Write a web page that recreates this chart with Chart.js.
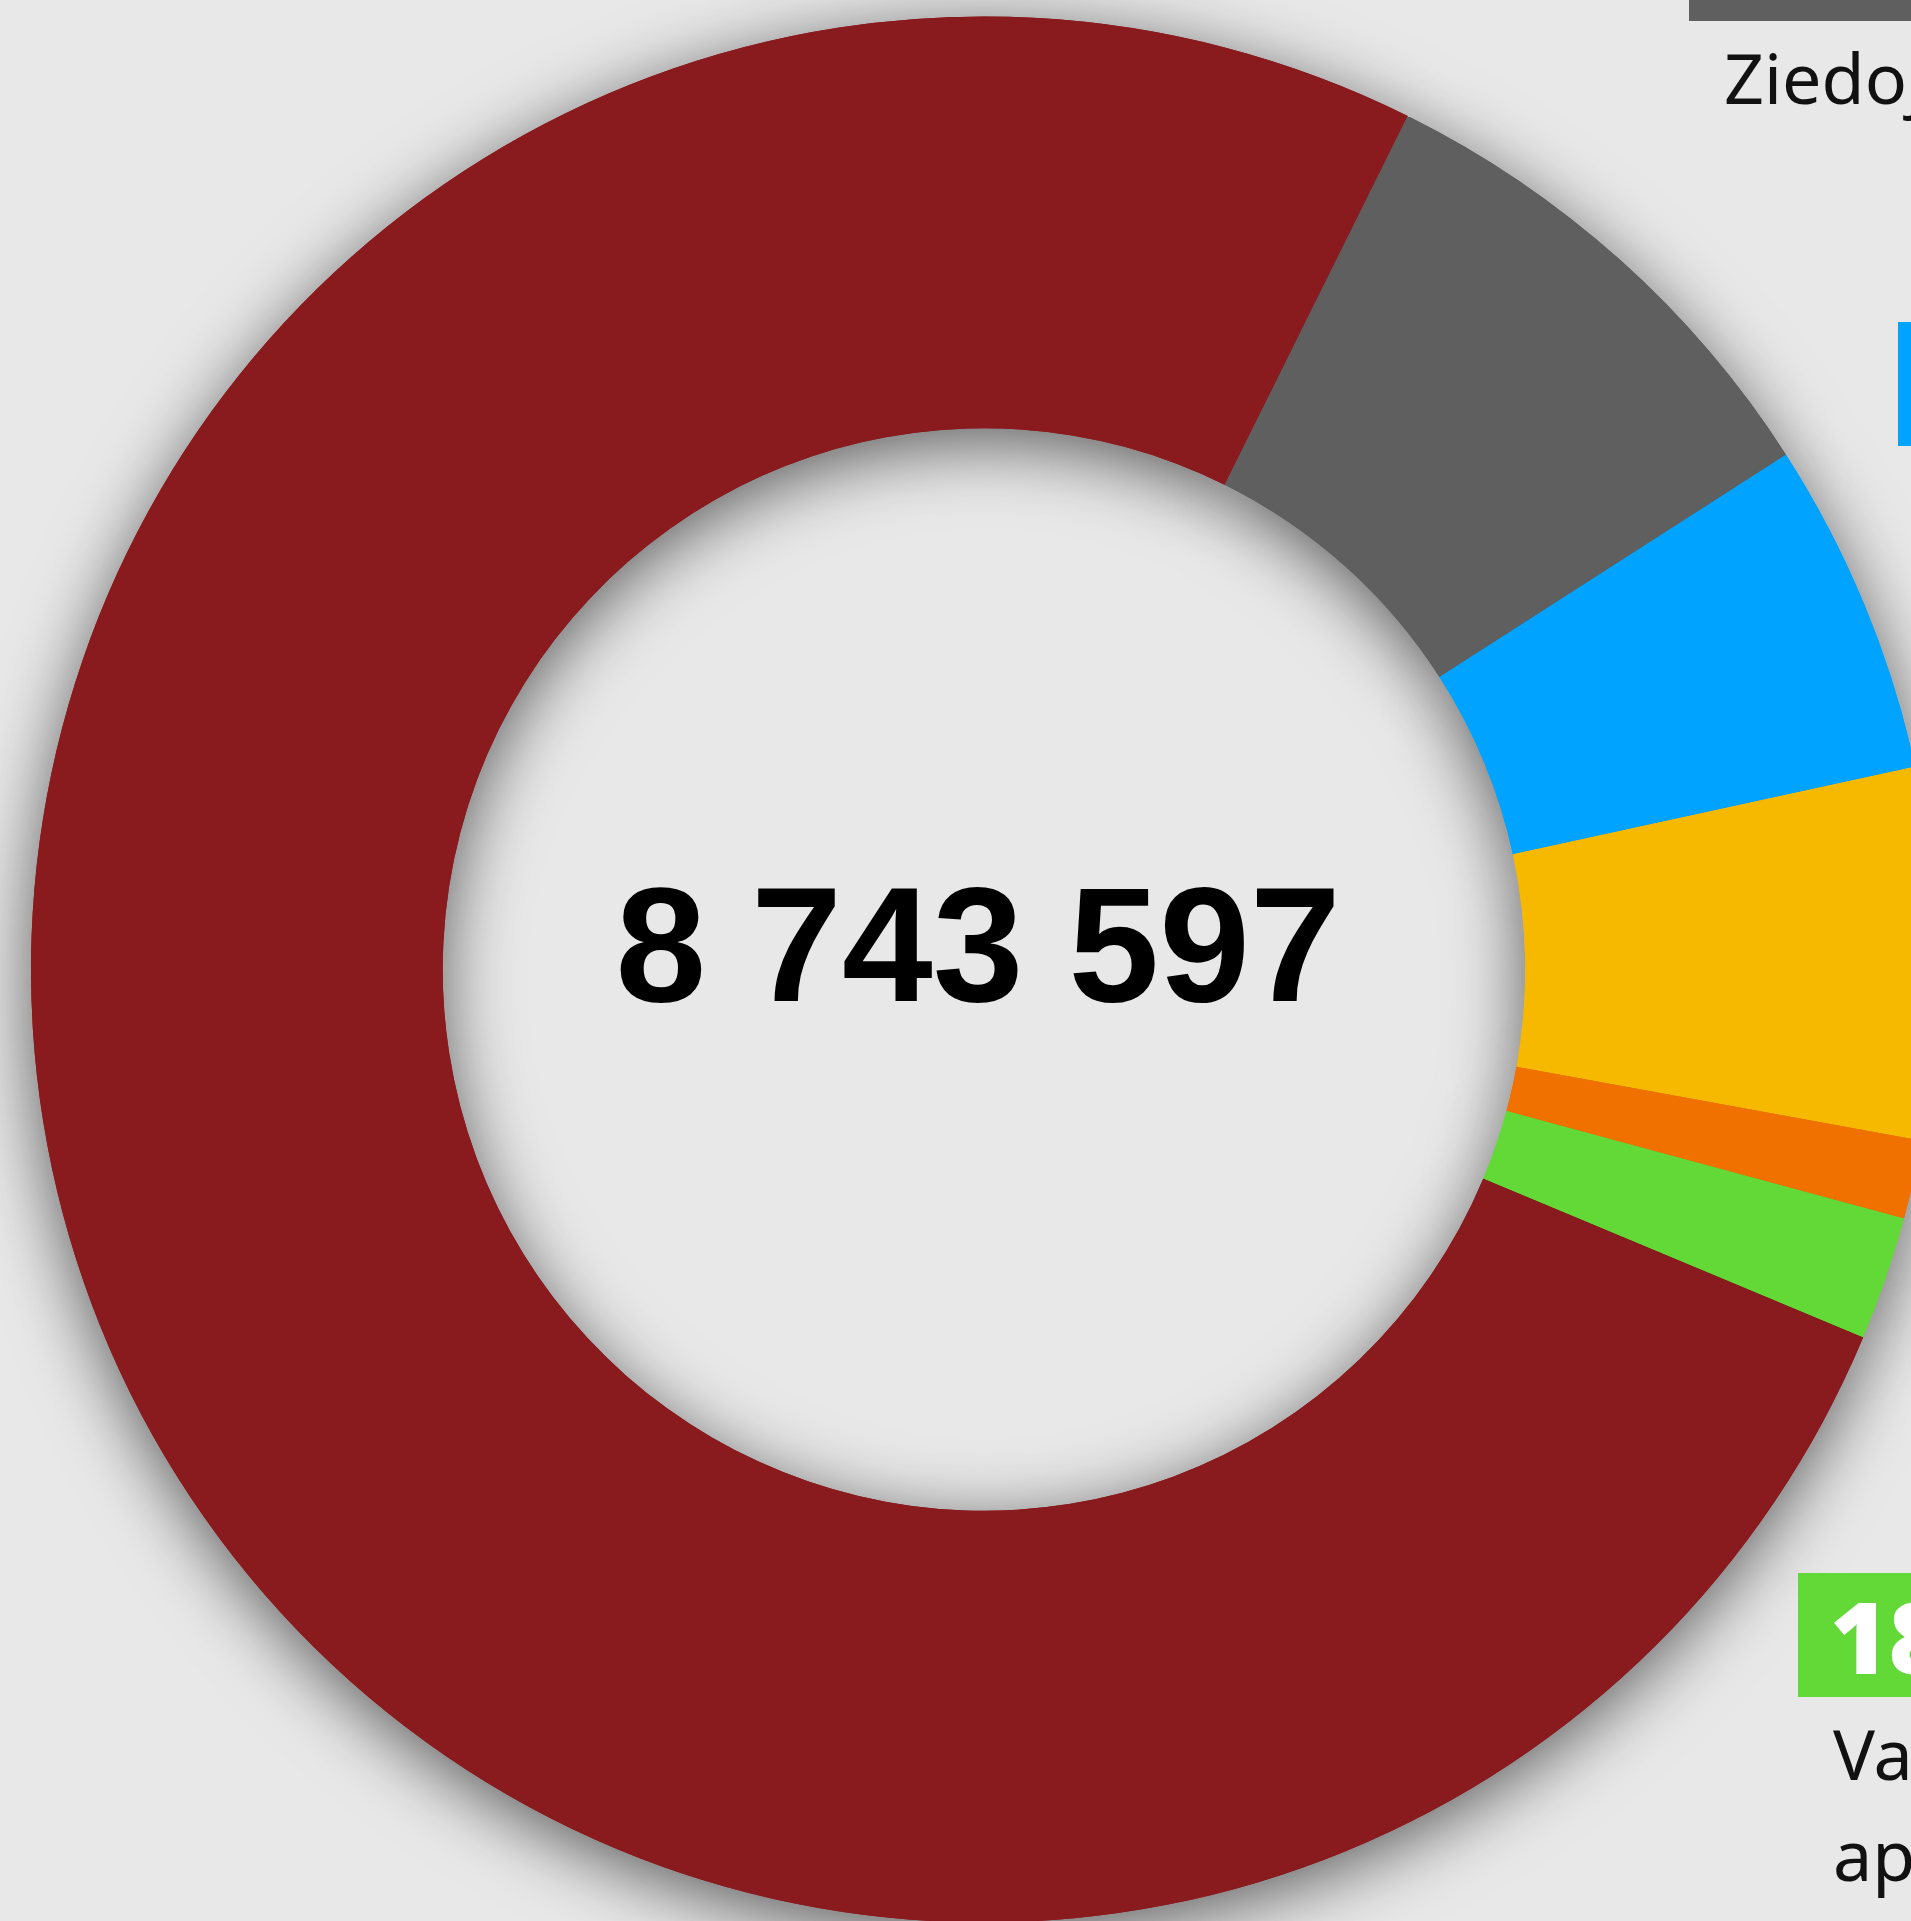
<!DOCTYPE html>
<html lang="lv">
<head>
<meta charset="utf-8">
<title>Ieņēmumi</title>
<script src="https://cdn.jsdelivr.net/npm/chart.js@4/dist/chart.umd.min.js"></script>
<style>
    html, body { margin: 0; padding: 0; }
    body {
        width: 1911px;
        height: 1921px;
        background: #e8e8e8;
        overflow: hidden;
        position: relative;
        font-family: "Noto Sans", sans-serif;
    }
    #grafiks { position: absolute; left: 0; top: 0; }
    .karte { position: absolute; width: 520px; z-index: 2; }
    .karte .skaitlis {
        height: 124px;
        line-height: 124px;
        padding-left: 32px;
        color: #fff;
        font-family: "Open Sans", sans-serif;
        font-weight: 800;
        font-size: 100px;
        white-space: nowrap;
    }
    .karte .nosaukums {
        margin-top: 6px;
        padding-left: 35px;
        font-size: 70px;
        line-height: 101px;
        color: #111;
        white-space: pre;
    }
</style>
</head>
<body>
<canvas id="grafiks" width="1911" height="1921"></canvas>

<script>
// Dati
const kategorijas = ['Biedru naudas', 'Ziedojumi', 'Aizņēmumi', 'Saimnieciskā darbība', 'Citi ieņēmumi', 'Valsts\napmaksāti'];
const vertibas = [6647558, 750500, 495470, 550118, 116581, 183370];
const krasas = ['#891a1d', '#5f5f5f', '#00a3ff', '#f6b900', '#f07000', '#62d937'];

// skaitlis ar atstarpēm: 8 743 597
function formatet(n) {
    return String(n).replace(/\B(?=(\d{3})+(?!\d))/g, ' ');
}

const kopa = vertibas.reduce((a, b) => a + b, 0);

// ēna zem gredzena (atsevišķā piegājienā, lai nebūtu svītru starp daļām)
const enaPlugin = {
    id: 'gredzenaEna',
    beforeDatasetsDraw(chart) {
        const ctx = chart.ctx;
        ctx.save();
        ctx.shadowColor = 'rgba(0, 0, 0, 0.6)';
        ctx.shadowBlur = 70;
        ctx.shadowOffsetY = 14;
        chart.getDatasetMeta(0).data.forEach(arc => arc.draw(ctx));
        ctx.restore();
    }
};

// kopsumma centrā
const centraTeksts = {
    id: 'centraTeksts',
    afterDatasetsDraw(chart) {
        const arc = chart.getDatasetMeta(0).data[0];
        const ctx = chart.ctx;
        ctx.save();
        ctx.font = 'bold 163px "Liberation Sans", Arial, sans-serif';
        ctx.fillStyle = '#000';
        ctx.textAlign = 'center';
        ctx.textBaseline = 'alphabetic';
        ctx.fillText(formatet(kopa), arc.x - 6, arc.y + 31);
        ctx.restore();
    }
};

const ctx = document.getElementById('grafiks').getContext('2d');
new Chart(ctx, {
    type: 'doughnut',
    data: {
        labels: kategorijas,
        datasets: [{
            data: vertibas,
            backgroundColor: krasas,
            borderWidth: 0
        }]
    },
    options: {
        responsive: false,
        animation: false,
        rotation: 112.7,
        radius: 953,
        cutout: '56.8%',
        layout: { padding: { left: 57, top: 18, right: 0, bottom: 0 } },
        plugins: {
            legend: { display: false },
            tooltip: { enabled: false }
        }
    },
    plugins: [enaPlugin, centraTeksts]
});

// kartītes labajā pusē (tikai tās, kas redzamas)
const kartesVietas = { 1: [1689, -103], 2: [1898, 322], 5: [1798, 1573] };
Object.keys(kartesVietas).forEach(k => {
    const i = Number(k);
    const div = document.createElement('div');
    div.className = 'karte';
    div.style.left = kartesVietas[k][0] + 'px';
    div.style.top = kartesVietas[k][1] + 'px';
    const sk = document.createElement('div');
    sk.className = 'skaitlis';
    sk.style.background = krasas[i];
    sk.textContent = formatet(vertibas[i]);
    const nos = document.createElement('div');
    nos.className = 'nosaukums';
    nos.textContent = kategorijas[i];
    div.appendChild(sk);
    div.appendChild(nos);
    document.body.appendChild(div);
});
</script>
</body>
</html>
